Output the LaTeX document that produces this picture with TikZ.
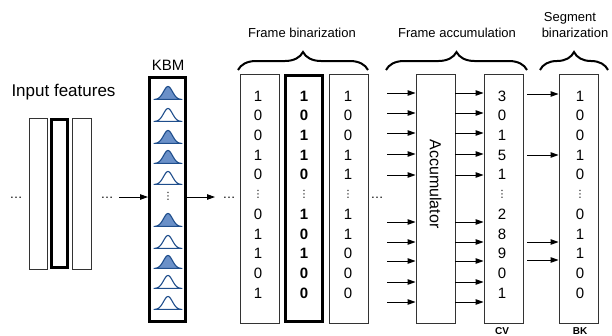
\documentclass[tikz,border=0pt]{standalone}
\usepackage{fontspec}
\setmainfont{Liberation Sans}
\newfontfamily\djv{DejaVu Sans}
\usetikzlibrary{arrows.meta,decorations.pathreplacing}
\definecolor{gline}{HTML}{1F4E8C}
\definecolor{gfill}{HTML}{6A90C8}
\definecolor{boxline}{HTML}{333333}
\tikzset{
 thinbox/.style={draw=boxline, line width=0.9pt, fill=white, minimum width=39pt, minimum height=249pt, inner sep=0pt},
 thickbox/.style={draw=black, line width=3pt, fill=white, inner sep=0pt},
 arr/.style={line width=0.9pt, -{Triangle[length=8pt,width=5.5pt]}},
 digit/.style={font=\fontsize{15}{15}\selectfont, inner sep=0pt},
 bdigit/.style={font=\fontsize{15}{15}\selectfont\bfseries, inner sep=0pt},
 vd/.style={font=\djv\fontsize{10}{10}\selectfont, inner sep=0pt},
 hd/.style={font=\fontsize{13}{13}\selectfont, inner sep=0pt, anchor=base},
 lab/.style={font=\fontsize{13}{15}\selectfont, inner sep=0pt, anchor=base},
 brc/.style={decorate, decoration={brace, amplitude=18pt}, line width=2pt},
 gauss/.pic={\draw[gline, line width=1.1pt, line join=round, fill=#1] plot[domain=-14:14, samples=41] (\x,{6.5-13*exp(-((\x/6.3)*(\x/6.3)))}) -- cycle;}
}
\newcommand\mycol[4]{%
 \foreach \v [count=\i] in {#3} {
   \pgfmathsetmacro\yy{\i<6 ? 96+19.7*(\i-1) : 96+19.7*\i}
   \node[#2] (#4\i) at (#1,\yy) {\v};
 }
 \node[vd] (#4dots) at (#1,194.5) {⋮};
}
\begin{document}
\begin{tikzpicture}[x=1pt,y=-1pt]
\useasboundingbox (0,0) rectangle (612,335);
% input features
\node[lab, font=\fontsize{17}{20}\selectfont] (inp) at (63.5,96) {Input features};
\node[thinbox, minimum width=18.5pt, minimum height=151pt] (f1) at (38.5,193.5) {};
\node[thickbox, minimum width=16pt, minimum height=148pt] (f2) at (59.5,193.5) {};
\node[thinbox, minimum width=19pt, minimum height=151pt] (f3) at (81.5,193.5) {};
\node[hd] (d1) at (16,198.5) {…};
\node[hd] (d2) at (107,198.5) {…};
% KBM
\node[lab, font=\fontsize{15}{17}\selectfont] (kbml) at (168,70) {KBM};
\node[thickbox, minimum width=36pt, minimum height=244pt] (kbm) at (167.5,199.5) {};
\foreach \yy/\cc [count=\k] in {93/gfill,115/white,137/gfill,157/gfill,178/white,220/gfill,242/white,262/gfill,282/white,303/white}
  \pic (g\k) at (168,\yy) {gauss=\cc};
\node[vd] (kdots) at (168,196) {⋮};
\coordinate (a0) at (119,197);
\draw[arr] (a0) -- (a0 -| kbm.west);
\coordinate (a1) at (215,197);
\draw[arr] (kbm.east |- a1) -- (a1);
\node[hd] (d3) at (229,198.5) {…};
% frame binarization
\node[thinbox] (c1) at (259.5,198.5) {};
\node[thickbox, minimum width=37pt, minimum height=245.5pt] (c2) at (304,198.3) {};
\node[thinbox] (c3) at (348.5,198.5) {};
\mycol{258}{digit}{1,0,0,1,0,0,1,1,0,1}{p}
\mycol{304}{bdigit}{1,0,1,1,0,1,0,1,0,0}{q}
\mycol{348}{digit}{1,0,0,1,1,1,1,0,0,0}{r}
\node[hd] (d4) at (377,198.5) {…};
% frame accumulation
\node[thinbox] (acc) at (435.5,198.5) {};
\node[rotate=-90, font=\fontsize{16}{16}\selectfont, inner sep=0pt] (acct) at (435.5,184) {Accumulator};
\node[thinbox] (cv) at (503.5,198.5) {};
\mycol{502}{digit}{3,0,1,5,1,2,8,9,0,1}{s}
\foreach \yy [count=\k] in {93,113,133,154,175,222,242,261,282,302} {
  \coordinate (in\k) at (387,\yy);
  \draw[arr] (in\k) -- (in\k -| acc.west);
  \draw[arr] (in\k -| acc.east) -- (in\k -| cv.west);
}
% segment binarization
\node[thinbox] (bk) at (578.5,198.5) {};
\mycol{580}{digit}{1,0,0,1,0,0,1,1,0,0}{t}
\foreach \yy [count=\k] in {94,155,242,260} {
  \coordinate (o\k) at (527,\yy);
  \draw[arr] (o\k) -- (o\k -| bk.west);
}
\node[font=\fontsize{10}{10}\selectfont\bfseries, anchor=base, inner sep=0pt] (cvl) at (502,334) {CV};
\node[font=\fontsize{10}{10}\selectfont\bfseries, anchor=base, inner sep=0pt] (bkl) at (580,334) {BK};
% braces
\coordinate (b1l) at (238,70); \coordinate (b1r) at (368,70);
\coordinate (b2l) at (386,70); \coordinate (b2r) at (527,70);
\coordinate (b3l) at (540,70); \coordinate (b3r) at (608,70);
\draw[brc] (b1l) -- (b1r);
\draw[brc] (b2l) -- (b2r);
\draw[brc] (b3l) -- (b3r);
\node[lab] (l1) at (302,37) {Frame binarization};
\node[lab] (l2) at (457,37) {Frame accumulation};
\node[lab] (l3a) at (570,21) {Segment};
\node[lab] (l3b) at (575,37) {binarization};
\end{tikzpicture}
\end{document}
